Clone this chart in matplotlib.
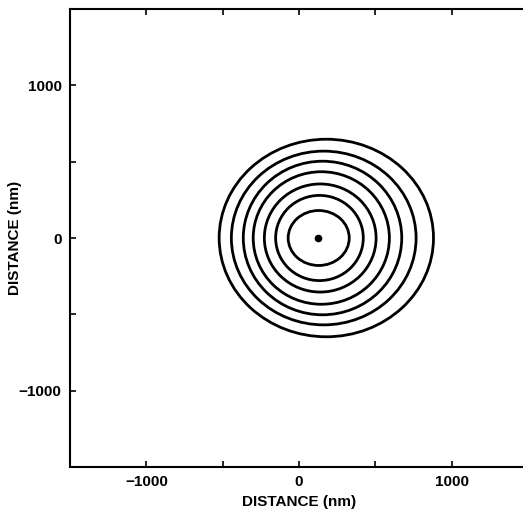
import matplotlib
matplotlib.use("Agg")
import matplotlib.pyplot as plt
from matplotlib.patches import Ellipse

# contour rings (data units, nm)
ring_cx = [179, 162, 154, 146, 139, 134, 129]
ring_cy = [0, 0, 0, 0, 0, 0, 0]
ring_rx = [702, 605, 519, 446, 366, 287, 200]
ring_ry = [647, 569, 503, 434, 354, 279, 180]
peak_x = [127]
peak_y = [0]

tick_vals = [-1000, -500, 0, 500, 1000]
tick_labels = ["\u22121000", "", "0", "", "1000"]

plt.rcParams['font.family'] = ['Liberation Sans', 'DejaVu Sans']

fig = plt.figure(figsize=(5.23, 5.14), dpi=100)
ax = fig.add_axes([70/523, 47/514, 458/523, 458/514])
ax.set_xlim(-1500, 1500)
ax.set_ylim(-1500, 1500)

for cx, cy, rx, ry in zip(ring_cx, ring_cy, ring_rx, ring_ry):
    ax.add_patch(Ellipse((cx, cy), 2*rx, 2*ry, fill=False, edgecolor='black', linewidth=2.0))
ax.plot(peak_x, peak_y, 'o', color='black', markersize=4.5)

ax.set_xticks(tick_vals)
ax.set_xticklabels(tick_labels)
ax.set_yticks(tick_vals)
ax.set_yticklabels(tick_labels)
ax.tick_params(direction='in', length=4, width=1.2, top=True, right=False,
               labelsize=11, pad=6)
for lab in ax.get_xticklabels() + ax.get_yticklabels():
    lab.set_fontweight('bold')
for s in ax.spines.values():
    s.set_linewidth(1.5)
ax.set_xlabel("DISTANCE (nm)", fontsize=11, fontweight='bold', labelpad=4)
ax.set_ylabel("DISTANCE (nm)", fontsize=11, fontweight='bold')
ax.yaxis.set_label_coords(-0.105, 0.5)

fig.savefig("out.png", dpi=100)
